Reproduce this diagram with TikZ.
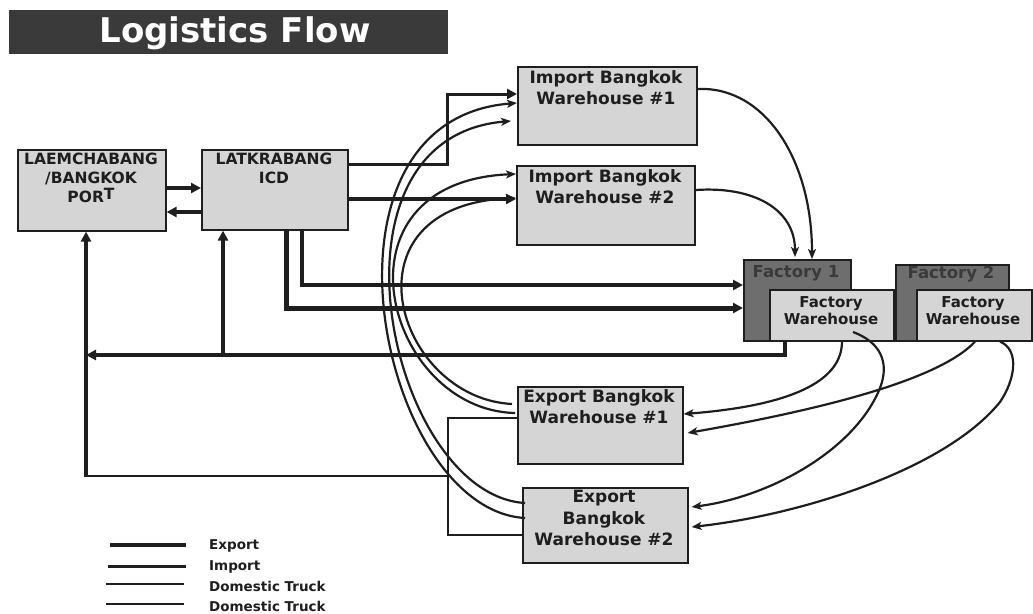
\documentclass[tikz,border=0pt]{standalone}
\usepackage{fontspec}
\setmainfont{DejaVu Sans}
\usetikzlibrary{arrows.meta,calc}
\definecolor{ink}{HTML}{1E1E1E}
\definecolor{boxfill}{HTML}{D5D5D5}
\definecolor{facfill}{HTML}{6E6E6E}
\definecolor{factext}{HTML}{3A3A3A}
\definecolor{titlefill}{HTML}{3A3A3A}
\begin{document}
\begin{tikzpicture}[x=1pt,y=-1pt,
  box/.style={draw=ink, line width=1.6pt, fill=boxfill, inner sep=0pt, anchor=north west},
  facbox/.style={box, fill=facfill},
  btxt/.style={font=\fontsize{17}{21.5}\selectfont\bfseries, text=ink, align=center, anchor=north, inner sep=0pt},
  ptxt/.style={btxt, font=\fontsize{15.5}{19}\selectfont\bfseries},
  ftxt/.style={btxt, font=\fontsize{15}{17}\selectfont\bfseries},
  factxt/.style={btxt, text=factext, font=\fontsize{16.5}{18}\selectfont\bfseries},
  legtxt/.style={font=\fontsize{13.5}{15}\selectfont\bfseries, text=ink, anchor=west, inner sep=0pt},
  bigtip/.tip={Triangle[length=10pt,width=10pt]},
  smalltip/.tip={Stealth[length=10pt,width=8pt,inset=2.5pt]},
  expline/.style={draw=ink, line width=3.8pt},
  expheavy/.style={draw=ink, line width=5pt},
  impline/.style={draw=ink, line width=3pt},
  trkline/.style={draw=ink, line width=2.3pt},
  curve/.style={draw=ink, line width=2.2pt, -smalltip},
]
\useasboundingbox (0,0) rectangle (1033,613);

% title
\node[fill=titlefill, minimum width=439pt, minimum height=44pt, anchor=north west, inner sep=0pt] (title) at (9,10) {};
\node[text=white, font=\fontsize{34}{34}\selectfont\bfseries, inner sep=0pt] (titletext) at (235,33) {Logistics Flow};

% boxes
\node[box, minimum width=148pt, minimum height=81pt] (port) at (17,149) {};
\node[ptxt] (porttext) at (91,153) {LAEMCHABANG\\/BANGKOK\\POR\raisebox{3pt}{T}};
\node[box, minimum width=146pt, minimum height=80pt] (icd) at (201,149) {};
\node[ptxt] (icdtext) at (274,153) {LATKRABANG\\ICD};

\node[box, minimum width=179pt, minimum height=78pt] (iw1) at (517,66) {};
\node[btxt] (iw1text) at (606,70) {Import Bangkok\\Warehouse \#1};
\node[box, minimum width=178pt, minimum height=79pt] (iw2) at (516,165) {};
\node[btxt] (iw2text) at (605,169) {Import Bangkok\\Warehouse \#2};

\node[facbox, minimum width=107pt, minimum height=81pt] (f1) at (743,259) {};
\node[factxt] (f1text) at (796,265) {Factory 1};
\node[box, minimum width=124pt, minimum height=51pt] (fw1) at (769,289) {};
\node[ftxt] (fw1text) at (831,296) {Factory\\Warehouse};

\node[facbox, minimum width=113pt, minimum height=76pt] (f2) at (895,264) {};
\node[factxt] (f2text) at (951,266) {Factory 2};
\node[box, minimum width=115pt, minimum height=51pt] (fw2) at (916,289) {};
\node[ftxt] (fw2text) at (973,296) {Factory\\Warehouse};

\node[box, minimum width=165pt, minimum height=77pt] (ew1) at (517,386) {};
\node[btxt] (ew1text) at (599,389) {Export Bangkok\\Warehouse \#1};
\node[box, minimum width=165pt, minimum height=75pt] (ew2) at (522,487) {};
\node[btxt] (ew2text) at (604,490) {Export\\Bangkok\\Warehouse \#2};

% junction coordinates
\coordinate (portfoot) at (86,476);
\coordinate (retjoin) at (86,355);
\coordinate (icdjoin) at (223,355);
\coordinate (bracket) at (448,476);

% port <-> ICD
\draw[expline, -bigtip] (port.east |- 0,188) -- (icd.west |- 0,188);
\draw[expline, -bigtip] (icd.west |- 0,212) -- (port.east |- 0,212);

% ICD -> import warehouses
\draw[impline, -bigtip] (icd.east |- 0,164) -| (447,94) -- (iw1.west |- 0,94);
\draw[expline, -bigtip] (icd.east |- 0,199) -- (iw2.west |- 0,199);

% ICD -> factory 1
\draw[expline, -bigtip] (icd.south -| 302,0) |- (f1.west |- 0,285);
\draw[expheavy, -bigtip] (icd.south -| 286,0) |- (f1.west |- 0,308);

% factory 1 -> back to port / ICD
\draw[expline, -bigtip] (f1.south -| 785,0) |- (retjoin);
\draw[expline, -bigtip] (icdjoin) -- (icd.south -| icdjoin);

% export warehouses -> port
\draw[trkline] (ew1.west |- 0,418) -| (bracket);
\draw[trkline] (ew2.west |- 0,535) -| (bracket);
\draw[trkline] (bracket) -- (portfoot);
\draw[expline, -bigtip] ([yshift=-1pt]portfoot) -- (port.south -| portfoot);

% import warehouses -> factory 1
\draw[curve] (iw1.east |- 0,89) .. controls (765,86) and (812,160) .. (f1.north -| 812,0);
\draw[curve] (iw2.east |- 0,190) .. controls (755,186) and (795,210) .. ([yshift=2pt]f1.north -| 795,0);

% factories -> export warehouses
\draw[curve] (fw1.south -| 842,0) .. controls (842,392) and (760,408) .. (ew1.east |- 0,414);
\draw[curve] (853,332) .. controls (880,342) and (890,362) .. (880,388) .. controls (855,450) and (770,497) .. ([xshift=3pt]ew2.east |- 0,507);
\draw[curve] (fw2.south -| 975,0) .. controls (935,385) and (790,415) .. ([xshift=4pt]ew1.east |- 0,433);
\draw[curve] (fw2.south -| 1000,0) .. controls (1020,350) and (1015,380) .. (1000,402) .. controls (945,470) and (800,515) .. ([xshift=3pt]ew2.east |- 0,527);

% export warehouses -> import warehouses (domestic trucks)
\draw[curve] ([xshift=3pt]ew2.west |- 0,518) .. controls (380,510) and (300,120) .. (iw1.west |- 0,103);
\draw[curve] ([xshift=3pt]ew2.west |- 0,503) .. controls (390,495) and (312,138) .. ([xshift=-6pt]iw1.west |- 0,121);
\draw[curve] ([xshift=-2pt]ew1.west |- 0,413) .. controls (385,410) and (325,182) .. (iw2.west |- 0,174);
\draw[curve] ([xshift=-5pt]ew1.west |- 0,404) .. controls (395,398) and (338,205) .. (iw2.west |- 0,198);

% legend
\coordinate (la1) at (110,545); \coordinate (lb1) at (186,545);
\coordinate (la2) at (108,566); \coordinate (lb2) at (186,566);
\coordinate (la3) at (106,584); \coordinate (lb3) at (184,584);
\coordinate (la4) at (106,604); \coordinate (lb4) at (184,604);
\draw[expline] (la1) -- (lb1);
\draw[impline] (la2) -- (lb2);
\draw[trkline] (la3) -- (lb3);
\draw[trkline] (la4) -- (lb4);
\node[legtxt] (leg1) at (209,546) {Export};
\node[legtxt] (leg2) at (209,567) {Import};
\node[legtxt] (leg3) at (209,586) {Domestic Truck};
\node[legtxt] (leg4) at (209,606) {Domestic Truck};
\end{tikzpicture}
\end{document}
